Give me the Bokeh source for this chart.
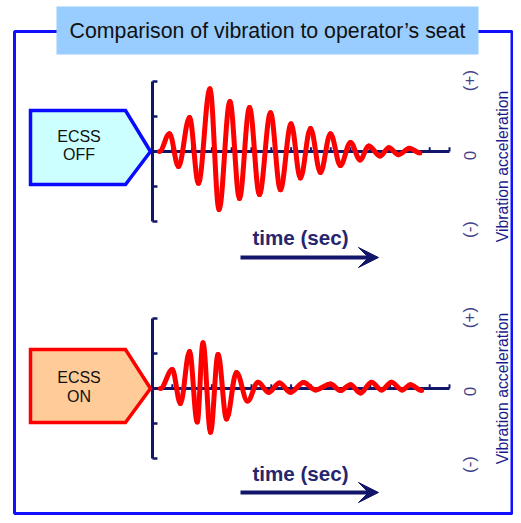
import numpy as np
from bokeh.plotting import figure
from bokeh.models import Range1d, Arrow, VeeHead
from bokeh.core.properties import value
from bokeh.embed import file_html
from bokeh.resources import INLINE

# ---------------- data ----------------
title_text = "Comparison of vibration to operator\u2019s seat"
panel_labels = [["ECSS", "OFF"], ["ECSS", "ON"]]
x_label = "time (sec)"
y_label = "Vibration acceleration"
y_marks = ["(+)", "0", "(-)"]

# ECSS OFF: time (axis units) and acceleration (axis units) of the wave's turning points
off_time = [0.35, 0.86, 1.31, 1.87, 2.32, 2.90, 3.36, 3.91, 4.39, 4.90, 5.40, 5.96, 6.46,
            7.00, 7.47, 7.98, 8.48, 8.99, 9.49, 10.00, 10.48, 10.93, 11.49, 11.94, 12.42,
            12.98, 13.50]
off_accel = [0.0, 0.51, -0.43, 0.97, -0.91, 1.79, -1.66, 1.43, -1.34, 1.26, -1.23, 1.11, -1.09,
             0.79, -0.76, 0.66, -0.60, 0.51, -0.40, 0.26, -0.24, 0.16, -0.13, 0.11, -0.09,
             0.09, -0.04]

# ECSS ON
on_time = [0.40, 1.00, 1.41, 1.87, 2.26, 2.55, 2.93, 3.31, 3.74, 4.24, 4.80, 5.33, 5.87,
           6.41, 6.97, 7.63, 8.23, 8.99, 9.49, 10.00, 10.50, 11.06, 11.57, 12.07, 12.61,
           13.03, 13.59]
on_accel = [0.0, 0.54, -0.43, 1.06, -0.96, 1.31, -1.25, 0.97, -0.87, 0.46, -0.36, 0.18, -0.11,
            0.16, -0.11, 0.17, -0.04, 0.13, -0.06, 0.11, -0.13, 0.18, -0.04, 0.18, -0.04,
            0.11, -0.06]

accel_ticks = [-2, -1, 0, 1, 2]
time_ticks = list(range(1, 16))
time_max = 15

# ---------------- layout ----------------
W, H = 513, 515
X0, X1 = 0, W          # screen-like coordinates for decoration
Y0, Y1 = 0, H

NAVY = "#12166a"
FONT = value("Liberation Sans")

p = figure(width=W, height=H, output_backend="svg", toolbar_location=None,
           x_range=Range1d(X0, X1), y_range=Range1d(Y1, Y0),
           min_border=0, background_fill_color="white", border_fill_color="white")
p.axis.visible = False
p.grid.visible = False
p.outline_line_color = None

# data ranges: time shared, one acceleration range per panel
T_ORIGIN, T_PX = 152.0, 19.8
A_PX = 35.0
ZERO_Y = {"top": 151.0, "bot": 388.0}
p.extra_x_ranges = {"t": Range1d((X0 - T_ORIGIN) / T_PX, (X1 - T_ORIGIN) / T_PX)}
p.extra_y_ranges = {
    k: Range1d((z - Y1) / A_PX, (z - Y0) / A_PX) for k, z in ZERO_Y.items()
}

# outer frame and title
p.quad(left=14, right=511.5, top=31, bottom=513, fill_color=None,
       line_color="#1010ff", line_width=3)
p.quad(left=56, right=478, top=6, bottom=54, fill_color="#99ccff", line_color=None)
p.text(x=[267], y=[30], text=[title_text], text_font=FONT, text_font_size="21.3px",
       text_color="#111111", text_align="center", text_baseline="middle")


def wave(tt, vv, rname):
    tt = np.asarray(tt, float)
    vv = np.asarray(vv, float)
    dt = tt[1:] - tt[:-1]
    k = 0.36
    p.bezier(x0=tt[:-1], y0=vv[:-1], x1=tt[1:], y1=vv[1:],
             cx0=tt[:-1] + k * dt, cy0=vv[:-1], cx1=tt[1:] - k * dt, cy1=vv[1:],
             line_color="#ff0000", line_width=5, line_cap="round",
             x_range_name="t", y_range_name=rname)


panels = [
    dict(r="top", t=off_time, a=off_accel, fill="#ccffff", edge="#0a0aff",
         box=(30, 125, 150, 110, 184, 151), lbl_y=(136, 154),
         time_y=237, arrow_y=257, marks_y=(80, 155, 229), vlab_y=166),
    dict(r="bot", t=on_time, a=on_accel, fill="#ffcc99", edge="#ff0000",
         box=(30, 125, 150, 349, 422, 388), lbl_y=(377, 396),
         time_y=473, arrow_y=492, marks_y=(317, 391, 464), vlab_y=388),
]

for i, pn in enumerate(panels):
    r = pn["r"]
    # axes
    p.segment(x0=[0], y0=[min(accel_ticks)], x1=[0], y1=[max(accel_ticks)],
              line_color=NAVY, line_width=3, x_range_name="t", y_range_name=r)
    p.segment(x0=[0] * len(accel_ticks), y0=accel_ticks, x1=[0.25] * len(accel_ticks),
              y1=accel_ticks, line_color=NAVY, line_width=2.5,
              x_range_name="t", y_range_name=r)
    p.segment(x0=[0], y0=[0], x1=[time_max], y1=[0], line_color=NAVY, line_width=3,
              x_range_name="t", y_range_name=r)
    p.segment(x0=time_ticks, y0=[0] * len(time_ticks), x1=time_ticks,
              y1=[0.12] * len(time_ticks), line_color=NAVY, line_width=2,
              x_range_name="t", y_range_name=r)
    # waveform
    wave(pn["t"], pn["a"], r)

    # label pentagon
    lx, rx, tipx, ty, by, tipy = pn["box"]
    p.patch(x=[lx, rx, tipx, rx, lx], y=[ty, ty, tipy, by, by],
            fill_color=pn["fill"], line_color=pn["edge"], line_width=3.5,
            line_join="miter")
    for txt, yy in zip(panel_labels[i], pn["lbl_y"]):
        p.text(x=[(lx + rx) / 2 + 1], y=[yy], text=[txt], text_font=FONT,
               text_font_size="16px", text_color="#111111",
               text_align="center", text_baseline="middle")

    # time label and arrow
    p.text(x=[300], y=[pn["time_y"]], text=[x_label], text_font=FONT,
           text_font_size="20.6px", text_font_style="bold", text_color="#26266e",
           text_align="center", text_baseline="middle")
    p.add_layout(Arrow(end=VeeHead(size=20, fill_color=NAVY, line_color=NAVY),
                       x_start=240, y_start=pn["arrow_y"], x_end=378, y_end=pn["arrow_y"],
                       line_color=NAVY, line_width=4))

    # right-hand rotated labels
    for m, yy in zip(y_marks, pn["marks_y"]):
        p.text(x=[469], y=[yy], text=[m], text_font=FONT, text_font_size="17px",
               text_color="#44448a", angle=np.pi / 2,
               text_align="center", text_baseline="middle")
    p.text(x=[502], y=[pn["vlab_y"]], text=[y_label], text_font=FONT,
           text_font_size="15.8px", text_color="#1a1a8c", angle=np.pi / 2,
           text_align="center", text_baseline="middle")

open("out.html", "w").write(file_html(p, INLINE))
